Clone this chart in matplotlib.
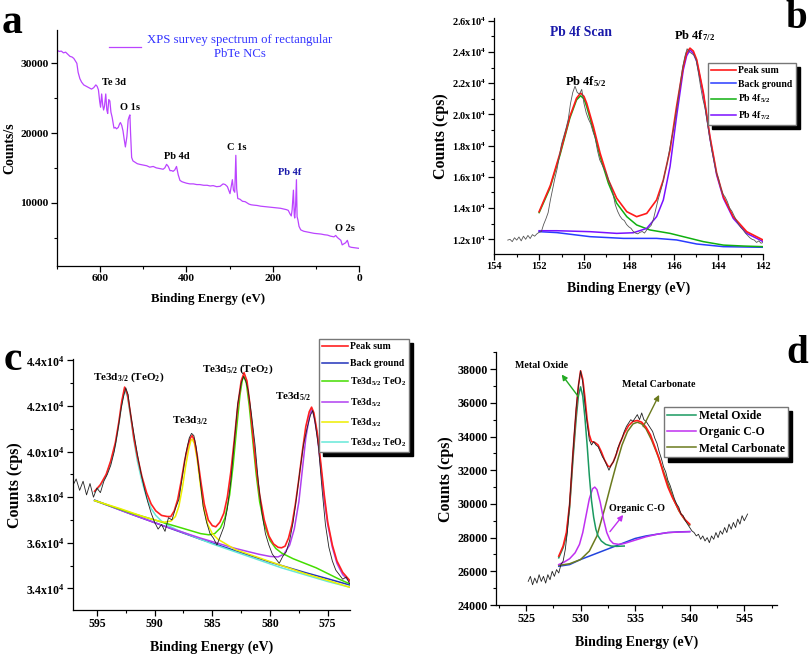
import matplotlib
matplotlib.use('Agg')
import matplotlib.pyplot as plt
from matplotlib.ticker import MultipleLocator, FuncFormatter

plt.rcParams['font.family'] = ['Liberation Serif', 'DejaVu Serif']
plt.rcParams['font.weight'] = 'bold'
plt.rcParams['mathtext.fontset'] = 'custom'
plt.rcParams['mathtext.rm'] = 'Liberation Serif:bold'
plt.rcParams['mathtext.it'] = 'Liberation Serif:bold:italic'
plt.rcParams['mathtext.bf'] = 'Liberation Serif:bold'
plt.rcParams['axes.linewidth'] = 0.9

# ---------------- (a) survey spectrum ----------------
survey_be = [700, 695, 690, 685, 680, 675, 670, 665, 661, 657,
             654, 651, 647, 643, 638, 632, 626, 620, 615, 610,
             607, 604, 601, 599, 596.5, 594, 592, 590, 587, 584.5,
             582.5, 580, 577.5, 575, 572, 570, 568, 565, 562, 558,
             555, 553, 550, 547, 544.5, 541.5, 538, 535, 533, 531,
             529.5, 527, 524, 519, 514, 508, 500, 492, 485, 477,
             470, 462, 454, 450, 446, 442, 438, 434, 431, 427,
             423, 419, 415, 410, 405, 400, 392, 384, 376, 369,
             360, 352, 345, 338, 330, 322, 315, 310, 305, 299,
             296, 293.5, 291, 288, 285.5, 283.5, 281, 276, 270, 264,
             260, 255, 250, 244, 236, 228, 220, 213, 205, 197,
             190, 182, 175, 168, 164, 160, 157, 155, 152, 150,
             149, 147, 145, 143.5, 141.5, 139, 135, 128, 120, 112,
             104, 96, 88, 80, 73, 66, 58, 54, 50, 46,
             42, 39, 35, 31, 27, 25, 23, 18, 12, 6,
             0]
survey_cps = [31900, 31700, 31750, 31500, 31600, 31300, 31000, 30900, 30700, 30300,
              30000, 28700, 27800, 27300, 26900, 26700, 26500, 26300, 26500, 26900,
              26700, 26200, 24500, 23700, 25600, 24000, 23300, 23800, 25600, 23300,
              22800, 24800, 24600, 23000, 22200, 21400, 20700, 20800, 20600, 20800,
              21300, 21500, 21100, 20300, 19200, 18000, 19500, 21900, 22300, 22600,
              20000, 16500, 16000, 15800, 15600, 15500, 15400, 15300, 15100, 15200,
              15000, 14900, 14800, 15000, 15500, 15200, 14600, 14600, 14500, 14700,
              15200, 14000, 13200, 13000, 12900, 12800, 12700, 12700, 12600, 12600,
              12500, 12500, 12400, 12450, 12300, 12350, 12700, 12600, 12300, 11300,
              12400, 13300, 11800, 11500, 16800, 12000, 10600, 10500, 10200, 10150,
              10000, 9800, 9700, 9650, 9600, 9500, 9450, 9400, 9350, 9300,
              9250, 9200, 9100, 9000, 8900, 8400, 8100, 9000, 11800, 8200,
              7800, 9500, 13300, 8000, 7500, 6600, 6100, 5900, 5800, 5700,
              5600, 5550, 5500, 5400, 5350, 5200, 5100, 5300, 5000, 4800,
              4600, 3950, 4100, 4250, 4600, 4200, 3700, 3600, 3550, 3500,
              3450]
survey_labels = ['Te 3d', 'O 1s', 'Pb 4d', 'C 1s', 'Pb 4f', 'O 2s']
survey_label_be = [569, 531, 423, 284, 161, 33]
survey_label_cps = [27300, 23600, 16560, 17850, 14400, 6230]
survey_label_color = ['black', 'black', 'black', 'black', '#1a1aaa', 'black']

# ---------------- (b) Pb 4f ----------------
b_raw_be = [153.4, 153.3, 153.2, 153.1, 153.0, 152.9, 152.8, 152.7, 152.6, 152.5, 152.4, 152.3,
            152.2, 152.1, 152.0, 151.9, 151.8, 151.7, 151.6, 151.5, 151.4, 151.3, 151.2, 151.1,
            151.0, 150.9, 150.8, 150.7, 150.6, 150.5, 150.4, 150.3, 150.2, 150.1, 150.0, 149.9,
            149.8, 149.7, 149.6, 149.5, 149.4, 149.3, 149.2, 149.1, 149.0, 148.9, 148.8, 148.7,
            148.6, 148.5, 148.4, 148.3, 148.2, 148.1, 148.0, 147.9, 147.8, 147.7, 147.6, 147.5,
            147.4, 147.3, 147.2, 147.1, 147.0, 146.9, 146.8, 146.7, 146.6, 146.5, 146.4, 146.3,
            146.2, 146.1, 146.0, 145.9, 145.8, 145.7, 145.6, 145.5, 145.4, 145.3, 145.2, 145.1,
            145.0, 144.9, 144.8, 144.7, 144.6, 144.5, 144.4, 144.3, 144.2, 144.1, 144.0, 143.9,
            143.8, 143.7, 143.6, 143.5, 143.4, 143.3, 143.2, 143.1, 143.0, 142.9, 142.8, 142.7,
            142.6, 142.5, 142.4, 142.3, 142.2, 142.1, 142.0]
b_raw_cps = [11950, 12000, 11850, 12100, 11950, 12150, 11900, 12200, 12000, 12250, 12050, 12300,
             12200, 12350, 12450, 12500, 12950, 13300, 13700, 14500, 15200, 15900, 16500, 17300,
             18100, 18600, 19100, 19700, 20700, 21400, 21800, 21400, 21300, 21600, 20700, 20100,
             19700, 19400, 18900, 18500, 17700, 17100, 16800, 16500, 16200, 15800, 15400, 14900,
             14200, 13800, 13500, 13300, 13200, 12950, 12800, 12700, 12500, 12400, 12350, 12450,
             12500, 12400, 12600, 12750, 12900, 13300, 13900, 14500, 15000, 15500, 16200, 16800,
             17600, 18400, 19100, 20000, 21000, 22000, 23000, 23700, 24200, 24000, 23900, 23800,
             23500, 22700, 21800, 21000, 20400, 19500, 18600, 17700, 17000, 16300, 15900, 15300,
             14900, 14700, 14400, 14000, 13800, 13500, 13200, 12950, 12750, 12600, 12400, 12250,
             12100, 12000, 11950, 11800, 11900, 11750, 11800]
b_sum_be = [152.0, 151.5, 151.07, 150.63, 150.33, 150.15, 150.0, 149.88, 149.58, 149.28, 148.91,
            148.54, 148.09, 147.65, 147.2, 146.76, 146.46, 146.16, 145.87, 145.57, 145.42, 145.27,
            145.12, 144.97, 144.67, 144.38, 144.08, 143.78, 143.34, 142.74, 142.0]
b_sum_cps = [13770, 15450, 17510, 19860, 21040, 21360, 21150, 20720, 19220, 17510, 15800,
             14630, 13770, 13450, 13660, 14520, 15800, 17720, 20500, 23070, 23950, 24240,
             24050, 23500, 21360, 18580, 16230, 14730, 13450, 12490, 11950]
b_52_be = [152.0, 151.52, 151.07, 150.63, 150.33, 150.15, 150.0, 149.88, 149.58, 149.28, 148.91,
           148.54, 148.09, 147.65, 147.06, 146.16, 145.57, 144.67, 143.78, 142.89, 142.0]
b_52_cps = [13710, 15270, 17400, 19760, 20930, 21190, 21000, 20500, 19000, 17300, 15590,
            14310, 13450, 12920, 12600, 12380, 12170, 11850, 11630, 11570, 11530]
b_72_be = [152.0, 151.21, 149.73, 148.54, 147.8, 147.2, 146.76, 146.46, 146.16, 145.87, 145.57,
           145.42, 145.27, 145.12, 144.97, 144.67, 144.38, 144.08, 143.78, 143.34, 142.74, 142.0]
b_72_cps = [12550, 12550, 12490, 12380, 12420, 12700, 13450, 14520, 16660, 19860, 22850,
            23750, 24130, 23900, 23390, 21250, 18470, 16120, 14630, 13340, 12380, 11850]
b_bg_be = [152.0, 151.21, 149.73, 148.24, 146.76, 145.87, 144.97, 143.78, 142.0]
b_bg_cps = [12490, 12430, 12170, 12060, 12060, 11960, 11700, 11530, 11490]

# ---------------- (c) Te 3d ----------------
c_raw_be = [597.1, 596.8, 596.5, 596.2, 595.9, 595.6, 595.3, 595.0, 594.7, 594.4, 594.1, 593.8,
            593.5, 593.2, 592.9, 592.7, 592.5, 592.3, 592.1, 591.8, 591.5, 591.2, 590.9, 590.6,
            590.3, 590.0, 589.7, 589.4, 589.1, 588.8, 588.5, 588.2, 587.9, 587.6, 587.3, 587.0,
            586.8, 586.6, 586.4, 586.1, 585.8, 585.5, 585.2, 584.9, 584.6, 584.3, 584.0, 583.7,
            583.4, 583.1, 582.8, 582.5, 582.3, 582.1, 581.9, 581.6, 581.3, 581.0, 580.7, 580.4,
            580.1, 579.8, 579.5, 579.2, 578.9, 578.6, 578.3, 578.0, 577.7, 577.4, 577.1, 576.8,
            576.5, 576.3, 576.1, 575.8, 575.5, 575.2, 574.9, 574.6, 574.3, 574.0, 573.7, 573.4,
            573.1]
c_raw_cps = [38500, 38800, 38300, 38700, 38100, 38600, 38000, 38400, 38200, 38700, 39000, 39400,
             40000, 40900, 41900, 42400, 42800, 42500, 41700, 40800, 39900, 39100, 38400, 37800,
             37300, 36900, 36600, 36800, 36500, 37100, 37000, 37500, 37900, 38900, 39900, 40600,
             40800, 40700, 40200, 38900, 37600, 36900, 36400, 36200, 35900, 36300, 36700, 37500,
             38700, 40400, 42100, 43000, 43300, 43100, 42700, 41600, 40300, 38600, 37300, 36400,
             35900, 35500, 35300, 35100, 35400, 35600, 36100, 36900, 38000, 39200, 40300, 41000,
             41600, 41800, 41300, 40200, 38400, 36800, 35800, 35200, 34800, 34600, 34400, 34500,
             34200]
c_sum_be = [595.2, 594.7, 594.2, 593.8, 593.4, 593.1, 592.85, 592.6, 592.35, 592.1, 591.8, 591.5,
            591.1, 590.7, 590.3, 589.9, 589.4, 588.9, 588.6, 588.3, 588.0, 587.7, 587.4, 587.1,
            586.9, 586.75, 586.55, 586.3, 586.0, 585.7, 585.35, 585.0, 584.7, 584.35, 584.0, 583.7,
            583.4, 583.1, 582.8, 582.5, 582.25, 582.0, 581.75, 581.5, 581.2, 580.9, 580.5, 580.1,
            579.7, 579.3, 579.0, 578.7, 578.4, 578.1, 577.8, 577.5, 577.2, 576.9, 576.6, 576.4,
            576.2, 575.9, 575.6, 575.3, 575.0, 574.6, 574.2, 573.7, 573.1]
c_sum_cps = [38260, 38550, 39000, 39600, 40400, 41300, 42200, 42830, 42500, 41700, 40600, 39800,
             38900, 38200, 37700, 37400, 37200, 37150, 37150, 37400, 37900, 38700, 39600, 40300,
             40600, 40700, 40500, 39800, 38700, 37700, 37000, 36750, 36700, 36900, 37300, 38000,
             39100, 40500, 42000, 43100, 43460, 43100, 42100, 40800, 39300, 38100, 37000, 36300,
             35950, 35800, 35780, 35850, 36200, 36800, 37700, 38800, 40000, 41100, 41750, 41950,
             41700, 40800, 39500, 38100, 36900, 35900, 35200, 34700, 34350]
c_bg_be = [595.2, 592.0, 589.0, 586.0, 583.0, 580.0, 577.0, 575.0, 573.1]
c_bg_cps = [37870, 37250, 36700, 36150, 35650, 35150, 34700, 34420, 34150]
c_te32o_be = [595.2, 594.7, 594.2, 593.8, 593.4, 593.1, 592.85, 592.6, 592.35, 592.1, 591.8,
              591.5, 591.1, 590.7, 590.3, 589.9, 589.4, 588.8, 588.0, 587.0, 586.0, 585.0, 583.0,
              581.0, 579.0, 577.0, 575.0, 573.1]
c_te32o_cps = [38230, 38500, 38950, 39550, 40300, 41200, 42100, 42750, 42400, 41600, 40500,
               39600, 38700, 38000, 37500, 37200, 36950, 36750, 36550, 36350, 36150, 35950, 35600,
               35250, 34900, 34600, 34300, 34050]
c_te32_be = [595.2, 593.0, 591.0, 590.0, 589.2, 588.6, 588.2, 587.9, 587.6, 587.3, 587.05, 586.85,
             586.75, 586.55, 586.3, 586.0, 585.7, 585.4, 585.0, 584.5, 583.0, 581.0, 579.0, 577.0,
             575.0, 573.1]
c_te32_cps = [37850, 37500, 37150, 37000, 36900, 36950, 37150, 37600, 38400, 39400, 40100, 40500,
              40550, 40350, 39600, 38400, 37400, 36800, 36400, 36150, 35700, 35350, 35000, 34650,
              34350, 34050]
c_te52o_be = [595.2, 592.0, 589.0, 587.0, 586.0, 585.3, 584.8, 584.3, 583.9, 583.5, 583.2, 582.9,
              582.6, 582.4, 582.25, 582.05, 581.8, 581.5, 581.2, 580.9, 580.5, 580.0, 579.5, 579.0,
              578.0, 577.0, 576.0, 575.0, 574.0, 573.1]
c_te52o_cps = [37850, 37300, 36850, 36550, 36400, 36350, 36400, 36650, 37100, 38100, 39400, 41000,
               42500, 43150, 43300, 43000, 42000, 40500, 39000, 37800, 36800, 36100, 35750, 35550,
               35300, 35100, 34900, 34650, 34400, 34200]
c_te52_be = [595.2, 592.0, 589.0, 586.0, 583.0, 581.0, 580.0, 579.3, 578.8, 578.3, 577.9, 577.5,
             577.2, 576.9, 576.6, 576.4, 576.2, 575.9, 575.6, 575.3, 575.0, 574.6, 574.2, 573.7,
             573.1]
c_te52_cps = [37850, 37250, 36700, 36200, 35750, 35500, 35400, 35380, 35500, 35900, 36600, 37800,
              39200, 40600, 41500, 41850, 41600, 40700, 39300, 37900, 36800, 35800, 35100, 34600,
              34300]

# ---------------- (d) O 1s ----------------
d_raw_be = [525.2, 525.4, 525.6, 525.8, 526.0, 526.2, 526.4, 526.6, 526.8, 527.0, 527.2, 527.4,
            527.6, 527.8, 528.0, 528.2, 528.4, 528.6, 528.8, 529.0, 529.2, 529.4, 529.6, 529.8,
            530.0, 530.2, 530.4, 530.6, 530.8, 531.0, 531.2, 531.4, 531.6, 531.8, 532.0, 532.2,
            532.4, 532.6, 532.8, 533.0, 533.2, 533.4, 533.6, 533.8, 534.0, 534.2, 534.4, 534.6,
            534.8, 535.0, 535.2, 535.4, 535.6, 535.8, 536.0, 536.2, 536.4, 536.6, 536.8, 537.0,
            537.2, 537.4, 537.6, 537.8, 538.0, 538.2, 538.4, 538.6, 538.8, 539.0, 539.2, 539.4,
            539.6, 539.8, 540.0, 540.2, 540.4, 540.6, 540.8, 541.0, 541.2, 541.4, 541.6, 541.8,
            542.0, 542.2, 542.4, 542.6, 542.8, 543.0, 543.2, 543.4, 543.6, 543.8, 544.0, 544.2,
            544.4, 544.6, 544.8, 545.0, 545.3]
d_raw_cps = [25400, 25700, 25200, 25600, 25300, 25800, 25400, 25700, 25300, 25800, 25500, 26000,
             25700, 26100, 25900, 26400, 26600, 27300, 28400, 30100, 32000, 34000, 35700, 37000,
             37900, 37200, 35900, 34800, 33800, 33500, 33700, 33500, 33400, 33100, 32800, 32600,
             32300, 32000, 32300, 32500, 32800, 33300, 33600, 33900, 34300, 34600, 34800, 35000,
             34900, 35100, 35300, 35000, 35400, 35000, 34900, 34700, 34500, 34300, 33900, 33600,
             33100, 32700, 32200, 31900, 31400, 31100, 30700, 30300, 30000, 29800, 29400, 29300,
             29000, 28800, 28600, 28400, 28300, 28100, 28200, 27900, 28100, 27800, 28000, 27700,
             28100, 27900, 28300, 28000, 28400, 28200, 28600, 28300, 28800, 28500, 28900, 28600,
             29100, 28800, 29300, 29000, 29400]
d_sum_be = [528.0, 528.4, 528.7, 529.0, 529.3, 529.6, 529.8, 530.0, 530.2, 530.4, 530.6, 530.8,
            531.0, 531.3, 531.6, 531.9, 532.2, 532.5, 532.7, 533.0, 533.3, 533.6, 534.0, 534.4,
            534.8, 535.2, 535.6, 536.0, 536.4, 536.8, 537.2, 537.6, 538.0, 538.4, 538.8, 539.2,
            539.6, 540.0]
d_sum_cps = [26900, 27500, 28300, 30000, 33000, 35600, 37000, 37900, 37400, 36300, 35000, 34100,
             33700, 33650, 33500, 33100, 32600, 32250, 32200, 32500, 33000, 33600, 34200, 34650,
             34900, 34950, 34850, 34550, 34100, 33400, 32700, 31800, 31000, 30400, 29900, 29400,
             29050, 28800]
d_oxide_be = [528.0, 528.4, 528.7, 529.0, 529.3, 529.6, 529.8, 530.0, 530.2, 530.4, 530.6, 530.8,
              531.0, 531.2, 531.4, 531.6, 531.9, 532.3, 532.8, 533.3, 534.0]
d_oxide_cps = [26800, 27400, 28100, 29800, 32600, 35100, 36400, 36950, 36400, 35100, 33500, 31700,
               30200, 29200, 28500, 28100, 27800, 27600, 27500, 27480, 27500]
d_org_be = [528.0, 528.5, 529.0, 529.5, 529.9, 530.2, 530.5, 530.8, 531.1, 531.3, 531.5, 531.8,
            532.1, 532.4, 532.7, 533.0, 533.5, 534.0, 535.0, 536.0, 537.0, 538.0, 539.0, 540.0]
d_org_cps = [26400, 26550, 26750, 27100, 27600, 28300, 29300, 30300, 30900, 31000, 30850, 30100,
             29100, 28300, 27850, 27650, 27600, 27650, 27850, 28050, 28200, 28300, 28330, 28350]
d_carb_be = [528.0, 529.0, 530.0, 530.8, 531.5, 532.2, 532.8, 533.3, 533.8, 534.3, 534.8, 535.2,
             535.6, 536.0, 536.5, 537.0, 537.5, 538.0, 538.5, 539.0, 539.5, 540.0]
d_carb_cps = [26350, 26450, 26700, 27200, 28100, 29700, 31200, 32400, 33500, 34300, 34750, 34850,
              34750, 34450, 33800, 33000, 32100, 31200, 30300, 29600, 29100, 28750]
d_bg_be = [528.0, 529.0, 530.0, 531.0, 532.0, 533.0, 534.0, 535.0, 536.0, 537.0, 538.0, 539.0, 540.0]
d_bg_cps = [26300, 26400, 26700, 26950, 27200, 27450, 27700, 27950, 28100, 28200, 28300, 28340, 28360]

W, H = 810, 657
fig = plt.figure(figsize=(W / 100, H / 100), dpi=100)


def box(l, t, r, b):
    return [l / W, 1 - b / H, (r - l) / W, (b - t) / H]


def fig_pt(x, y):
    return (x / W, 1 - y / H)


def origin_axes(ax, xmaj, xmin, ymaj, ymin, tick_size, xlab_size=10):
    ax.spines['top'].set_visible(False)
    ax.spines['right'].set_visible(False)
    ax.xaxis.set_major_locator(MultipleLocator(xmaj))
    ax.xaxis.set_minor_locator(MultipleLocator(xmin))
    ax.yaxis.set_major_locator(MultipleLocator(ymaj))
    ax.yaxis.set_minor_locator(MultipleLocator(ymin))
    ax.tick_params(which='major', direction='out', length=4, width=0.9, labelsize=tick_size, pad=2)
    ax.tick_params(which='minor', direction='out', length=2.5, width=0.8)
    ax.set_xlabel('Binding Energy (eV)', fontsize=xlab_size, fontweight='bold', labelpad=7.5)
    ax.patch.set_alpha(0)


sci = FuncFormatter(lambda v, p: f'{v / 1e4:.1f}x10$^{{4}}$')
shadow = {'ox': 3, 'oy': -3, 'color': 'black', 'alpha': 1}
arrow = dict(arrowstyle='-|>', lw=1, mutation_scale=8, shrinkA=0, shrinkB=0)
frame = dict(borderaxespad=0, fancybox=False, edgecolor='#777777', framealpha=1, shadow=shadow)

# ---- panel a
ax = fig.add_axes(box(57, 30, 359, 265.7))
ax.plot(survey_be, survey_cps, color='#bb44ff', lw=0.9,
        label='XPS survey spectrum of rectangular\nPbTe NCs')
ax.set_xlim(700, 0)
ax.set_ylim(960, 34780)
origin_axes(ax, 200, 100, 10000, 5000, 8.2, xlab_size=9.3)
ax.set_ylabel('Counts/s', fontsize=10, fontweight='bold', labelpad=3)
for t, x, y, c in zip(survey_labels, survey_label_be, survey_label_cps, survey_label_color):
    ax.text(x, y, t, ha='center', va='center', fontsize=7.5, fontweight='bold', color=c)
leg = ax.legend(loc='upper left', bbox_to_anchor=fig_pt(109, 34), bbox_transform=fig.transFigure,
                frameon=False, handlelength=2.5, borderpad=0, borderaxespad=0, handletextpad=0.5,
                prop={'family': 'Liberation Serif', 'weight': 'normal', 'size': 9.2})
for txt in leg.get_texts():
    txt.set_color('#3333ff')
    txt.set_multialignment('center')

# ---- panel b
ax = fig.add_axes(box(494.3, 18.3, 763.3, 254))
ax.plot(b_bg_be, b_bg_cps, color='#2a3cff', lw=1.1, label='Back ground')
ax.plot(b_52_be, b_52_cps, color='#10b010', lw=1.1, label='Pb 4f$_{5/2}$')
ax.plot(b_72_be, b_72_cps, color='#7a10ff', lw=1.1, label='Pb 4f$_{7/2}$')
ax.plot(b_sum_be, b_sum_cps, color='#ff1a1a', lw=1.2, label='Peak sum')
ax.plot(b_raw_be, b_raw_cps, color='#555555', lw=0.6)
ax.set_xlim(154, 142)
ax.set_ylim(11060, 26150)
origin_axes(ax, 2, 1, 2000, 1000, 7.5)
ax.yaxis.set_major_formatter(sci)
ax.set_ylabel('Counts (cps)', fontsize=11.5, fontweight='bold', labelpad=2)
ax.text(150.14, 25224, 'Pb 4f Scan', ha='center', va='center', fontsize=9.8,
        fontweight='bold', color='#1a1aaa')
ax.text(145.05, 25030, 'Pb 4f$_{7/2}$', ha='center', va='center', fontsize=9, fontweight='bold')
ax.text(149.91, 22083, 'Pb 4f$_{5/2}$', ha='center', va='center', fontsize=9, fontweight='bold')
h, l = ax.get_legend_handles_labels()
order = [3, 0, 1, 2]
ax.legend([h[i] for i in order], [l[i] for i in order], loc='upper left',
          bbox_to_anchor=fig_pt(708.3, 63.3), bbox_transform=fig.transFigure,
          fontsize=7, handlelength=2.6, handletextpad=0.2, labelspacing=0.45, borderpad=0.3, **frame)

# ---- panel c
ax = fig.add_axes(box(72.7, 359.3, 350, 610))
ax.plot(c_bg_be, c_bg_cps, color='#2233bb', lw=1.1, label='Back ground')
ax.plot(c_te32o_be, c_te32o_cps, color='#66e8d8', lw=1.1, label='Te3d$_{3/2}$ TeO$_2$')
ax.plot(c_te52_be, c_te52_cps, color='#b040f0', lw=1.1, label='Te3d$_{5/2}$')
ax.plot(c_te52o_be, c_te52o_cps, color='#44dd00', lw=1.1, label='Te3d$_{5/2}$ TeO$_2$')
ax.plot(c_te32_be, c_te32_cps, color='#eeee00', lw=1.1, label='Te3d$_{3/2}$')
ax.plot(c_sum_be, c_sum_cps, color='#ff2020', lw=1.2, label='Peak sum')
ax.plot(c_raw_be, c_raw_cps, color='#222222', lw=0.6)
ax.set_xlim(597.1, 573.07)
ax.set_ylim(33050, 44050)
origin_axes(ax, 5, 2.5, 2000, 1000, 8.5)
ax.yaxis.set_major_formatter(sci)
ax.set_ylabel('Counts (cps)', fontsize=11.5, fontweight='bold', labelpad=2)
ax.text(592.25, 43250, 'Te3d$_{3/2}$ (TeO$_2$)', ha='center', va='center', fontsize=8)
ax.text(586.98, 41370, 'Te3d$_{3/2}$', ha='center', va='center', fontsize=8)
ax.text(582.83, 43630, 'Te3d$_{5/2}$ (TeO$_2$)', ha='center', va='center', fontsize=8)
ax.text(577.98, 42420, 'Te3d$_{5/2}$', ha='center', va='center', fontsize=8)
h, l = ax.get_legend_handles_labels()
order = [5, 0, 3, 2, 4, 1]
ax.legend([h[i] for i in order], [l[i] for i in order], loc='upper left',
          bbox_to_anchor=fig_pt(319.3, 339.3), bbox_transform=fig.transFigure,
          fontsize=7, handlelength=2.7, handletextpad=0.15, labelspacing=0.8, borderpad=0.3, **frame)

# ---- panel d
ax = fig.add_axes(box(496, 352.3, 776.7, 605))
ax.plot(d_bg_be, d_bg_cps, color='#2244dd', lw=1.1)
ax.plot(d_carb_be, d_carb_cps, color='#6b7a1e', lw=1.1, label='Metal Carbonate')
ax.plot(d_org_be, d_org_cps, color='#c030f0', lw=1.1, label='Organic C-O')
ax.plot(d_oxide_be, d_oxide_cps, color='#1a9a60', lw=1.1, label='Metal Oxide')
ax.plot(d_sum_be, d_sum_cps, color='#ff1a1a', lw=1.2)
ax.plot(d_raw_be, d_raw_cps, color='#222222', lw=0.6)
ax.set_xlim(522.25, 547.97)
ax.set_ylim(24000, 39000)
origin_axes(ax, 5, 2.5, 2000, 1000, 8.7)
ax.set_ylabel('Counts (cps)', fontsize=11.5, fontweight='bold', labelpad=2)
ax.annotate('', xy=(528.27, 37680), xytext=(529.79, 36373), arrowprops=dict(arrow, color='#22aa22'))
ax.text(526.46, 38200, 'Metal Oxide', ha='center', va='center', fontsize=7.2)
ax.annotate('', xy=(537.2, 36474), xytext=(535.74, 34590), arrowprops=dict(arrow, color='#6b7a1e'))
ax.text(537.18, 37070, 'Metal Carbonate', ha='center', va='center', fontsize=7.2)
ax.annotate('', xy=(533.91, 29346), xytext=(532.69, 28354), arrowprops=dict(arrow, color='#c030f0'))
ax.text(535.16, 29700, 'Organic C-O', ha='center', va='center', fontsize=7.2)
h, l = ax.get_legend_handles_labels()
order = [2, 1, 0]
ax.legend([h[i] for i in order], [l[i] for i in order], loc='upper left',
          bbox_to_anchor=fig_pt(664.3, 407.3), bbox_transform=fig.transFigure,
          fontsize=8.5, handlelength=2.4, handletextpad=0.3, labelspacing=0.35, borderpad=0.25, **frame)

# panel letters (baseline placed)
for letter, x, y, size in [('a', 12, 33, 30), ('b', 796, 28, 28), ('c', 12.5, 370, 30), ('d', 797.5, 363, 28)]:
    fig.text(x / W, 1 - y / H, letter, ha='center', va='baseline', fontsize=size, fontweight='bold')

fig.savefig('out.png', dpi=100)
